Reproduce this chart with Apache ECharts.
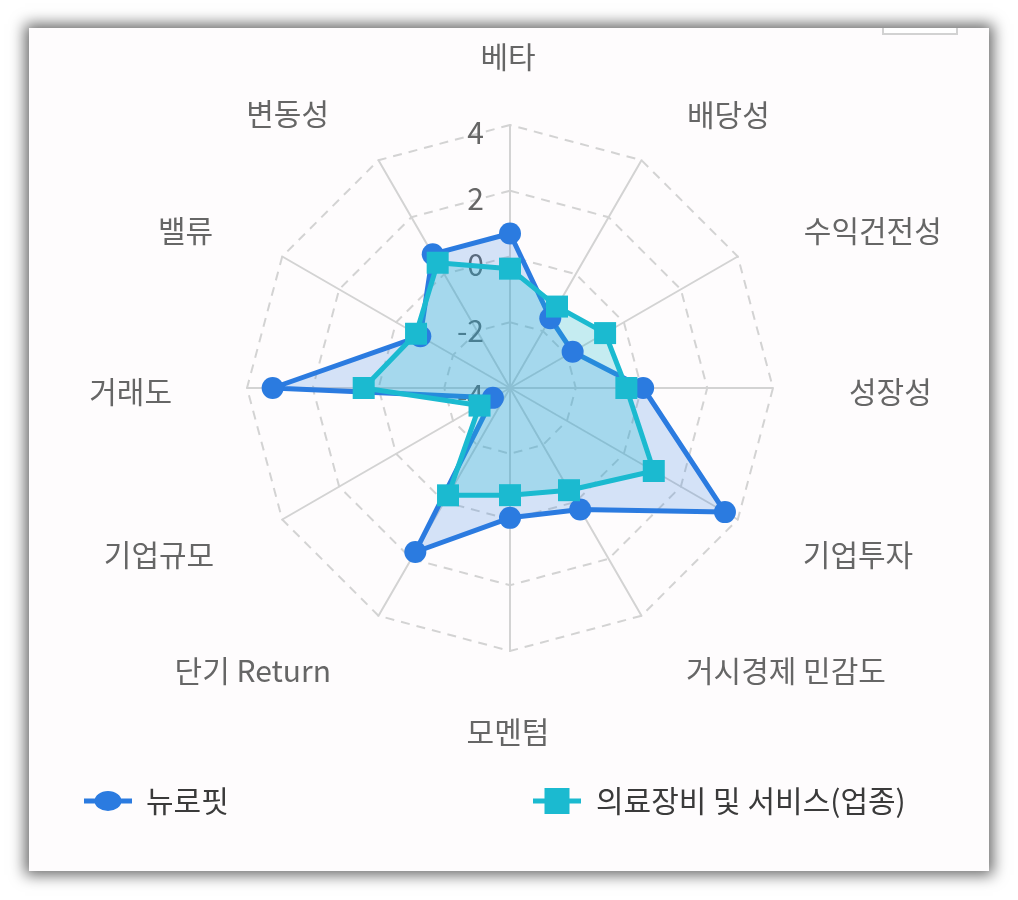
<!DOCTYPE html>
<html>
<head>
<meta charset="utf-8">
<script src="https://cdn.jsdelivr.net/npm/echarts@6/dist/echarts.min.js"></script>
<style>
  html, body { margin: 0; padding: 0; background: #ffffff; width: 1018px; height: 900px; overflow: hidden; }
  #card { position: absolute; left: 29px; top: 28px; width: 960px; height: 843px; background: #fefcfd;
          box-shadow: 0 0 14px 4px rgba(0,0,0,0.6); overflow: hidden; }
  #btn { position: absolute; left: 853px; top: -10px; width: 72px; height: 13px; border: 2px solid #d2d2d2; background: #fff; }
  #chart { position: absolute; left: 0; top: 0; width: 1018px; height: 900px; }
</style>
</head>
<body>
<div id="card"><div id="btn"></div></div>
<div id="chart"></div>
<script>
// Indicators in ECharts order (counter-clockwise from the top)
const indicatorNames = ['베타', '변동성', '밸류', '거래도', '기업규모', '단기 Return', '모멘텀',
                        '거시경제 민감도', '기업투자', '성장성', '수익건전성', '배당성'];
const axisMin = -4;
const axisMax = 4;
const seriesNames = ['뉴로핏', '의료장비 및 서비스(업종)'];
const neurophetValues = [0.7, 0.7, -0.85, 3.22, -3.4, 1.76, -0.05, 0.27, 3.55, 0.05, -1.8, -1.55];
const industryValues = [-0.37, 0.4, -0.7, 0.45, -2.93, -0.23, -0.74, -0.41, 1.05, -0.46, -0.66, -1.14];

// layout: per-label padding [top, right, bottom, left]
const namePads = [
  [0, 4, 29, 0], [0, 31, 30, 0], [0, 37, 14, 0], [8, 38, 0, 0], [34, 36, 0, 0], [46, 29, 0, 0],
  [54, 4, 0, 0], [46, 0, 0, 26], [34, 0, 0, 33], [8, 0, 0, 39], [0, 0, 15, 34], [0, 0, 27, 27]
];

const FONT = '"Noto Sans CJK KR", "Noto Sans", sans-serif';
const rich = {};
namePads.forEach((p, i) => {
  rich['s' + i] = { fontSize: 30, lineHeight: 34, fontFamily: FONT, color: '#666666', padding: p };
});

const indicators = indicatorNames.map((n, i) => {
  const o = { name: n, min: axisMin, max: axisMax };
  if (i === 0) {
    o.axisLabel = { show: true, fontSize: 30, fontFamily: FONT, color: '#666666', margin: 26,
                    verticalAlign: 'top', lineHeight: 16 };
  }
  return o;
});

const iconCircle = 'path://M0,7.5 H48 V12.5 H0 Z M10.5,10 A13.5,10 0 1 1 37.5,10 A13.5,10 0 1 1 10.5,10 Z';
const iconSquare = 'path://M0,10.5 H48 V15.5 H0 Z M11.5,0 H36.5 V26 H11.5 Z';

const blue = '#2b7be0';
const cyan = '#1bbad0';

const chart = echarts.init(document.getElementById('chart'), null, { renderer: 'canvas' });
chart.setOption({
  backgroundColor: 'transparent',
  animation: false,
  legend: [
    {
      data: [{ name: seriesNames[0], icon: iconCircle }],
      left: 84, top: 786, padding: 0,
      itemWidth: 48, itemHeight: 20,
      itemStyle: { color: blue, borderWidth: 0 },
      textStyle: { fontSize: 30, fontFamily: FONT, color: '#3a3a3a', padding: [0, 0, 0, 9] }
    },
    {
      data: [{ name: seriesNames[1], icon: iconSquare }],
      left: 533, top: 786, padding: 0,
      itemWidth: 48, itemHeight: 26,
      itemStyle: { color: cyan, borderWidth: 0 },
      textStyle: { fontSize: 30, fontFamily: FONT, color: '#3a3a3a', padding: [0, 0, 0, 10] }
    }
  ],
  radar: {
    center: [510, 388],
    radius: 263,
    startAngle: 90,
    shape: 'polygon',
    splitNumber: 4,
    nameGap: 37,
    indicator: indicators,
    axisName: {
      formatter: function (name) {
        return '{s' + indicatorNames.indexOf(name) + '|' + name + '}';
      },
      fontSize: 30,
      fontFamily: FONT,
      color: '#666666',
      rich: rich
    },
    axisLine: { lineStyle: { color: '#d3d3d3', width: 2 } },
    splitLine: { lineStyle: { color: '#d3d3d3', width: 2, type: [9, 7] } },
    splitArea: { show: false },
    axisTick: { show: false }
  },
  series: [
    {
      type: 'radar',
      name: seriesNames[0],
      symbol: 'circle',
      symbolSize: 22,
      lineStyle: { color: blue, width: 5 },
      itemStyle: { color: blue, borderWidth: 0 },
      areaStyle: { color: 'rgba(43,123,224,0.2)', opacity: 1 },
      data: [{ name: seriesNames[0], value: neurophetValues }]
    },
    {
      type: 'radar',
      name: seriesNames[1],
      symbol: 'rect',
      symbolSize: 22,
      lineStyle: { color: cyan, width: 5 },
      itemStyle: { color: cyan, borderWidth: 0 },
      areaStyle: { color: 'rgba(27,186,208,0.25)', opacity: 1 },
      data: [{ name: seriesNames[1], value: industryValues }]
    }
  ]
});
</script>
</body>
</html>
